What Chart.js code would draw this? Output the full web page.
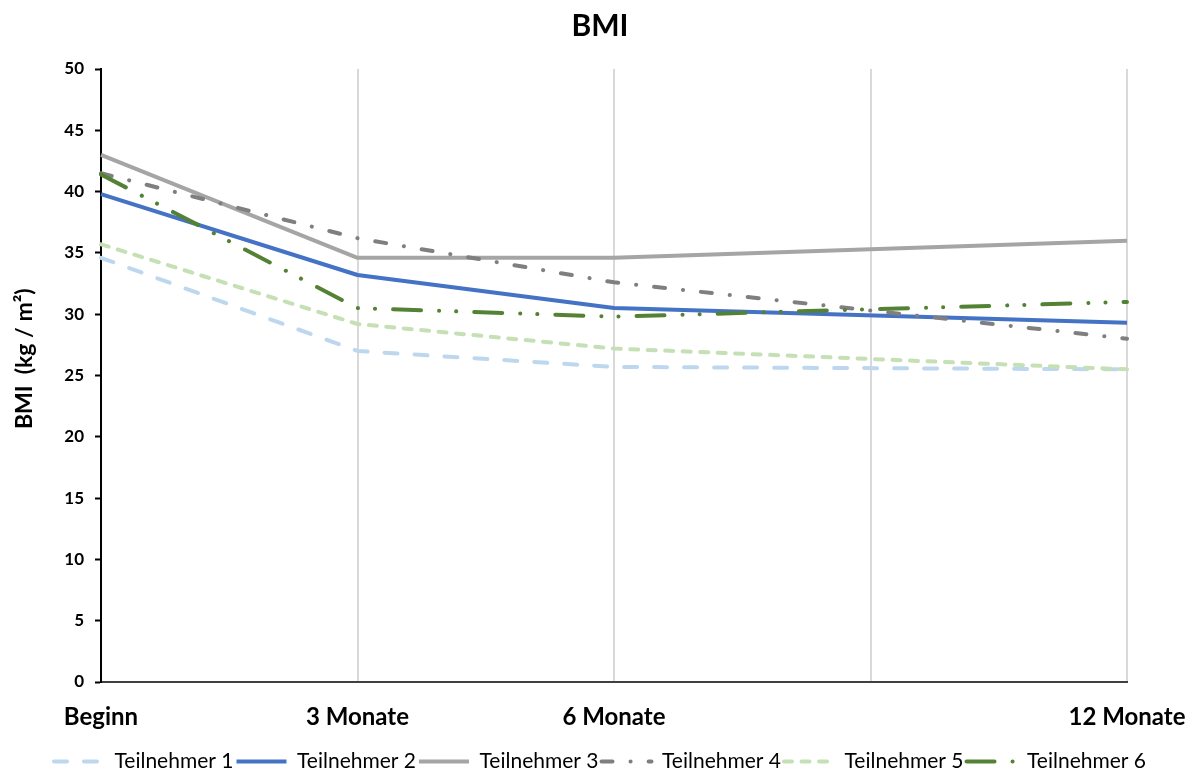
<!DOCTYPE html>
<html>
<head>
<meta charset="utf-8">
<title>BMI</title>
<script src="https://cdn.jsdelivr.net/npm/chart.js@4"></script>
<style>
  html, body { margin: 0; padding: 0; background: #fff; }
</style>
</head>
<body>
<canvas id="bmiChart" width="1195" height="774"></canvas>
<script>
// BMI der Teilnehmer im Verlauf (9 Monate: kein Messwert, Linie wird durchgezogen)
var zeitpunkte = ["Beginn", "3 Monate", "6 Monate", "", "12 Monate"];
var teilnehmerNamen = ["Teilnehmer 1", "Teilnehmer 2", "Teilnehmer 3", "Teilnehmer 4", "Teilnehmer 5", "Teilnehmer 6"];

var teilnehmer1 = [34.6, 27.0, 25.7, null, 25.5];
var teilnehmer2 = [39.8, 33.2, 30.5, null, 29.3];
var teilnehmer3 = [43.0, 34.6, 34.6, null, 36.0];
var teilnehmer4 = [41.5, 36.2, 32.6, null, 28.0];
var teilnehmer5 = [35.7, 29.2, 27.2, null, 25.5];
var teilnehmer6 = [41.4, 30.5, 29.8, null, 31.0];

var yTicks = [0, 5, 10, 15, 20, 25, 30, 35, 40, 45, 50];

// Linienstile wie in Excel
var farben = ["#BDD7EE", "#4472C4", "#A5A5A5", "#7F7F7F", "#C5E0B4", "#548235"];
var striche = [
    [13, 17],
    [],
    [],
    [11, 18, 0.1, 18],
    [8, 9.5],
    [28, 18, 0.1, 17, 0.1, 18]
];
var werte = [teilnehmer1, teilnehmer2, teilnehmer3, teilnehmer4, teilnehmer5, teilnehmer6];

var datasets = werte.map(function (w, i) {
    return {
        label: teilnehmerNamen[i],
        data: w,
        borderColor: farben[i],
        backgroundColor: farben[i],
        borderWidth: 4,
        borderDash: striche[i],
        borderCapStyle: striche[i].length ? 'round' : 'butt',
        borderJoinStyle: 'round',
        pointRadius: 0,
        pointHoverRadius: 0,
        pointStyle: 'line',
        tension: 0,
        spanGaps: true,
        fill: false,
        order: 10 - i   // spätere Serien liegen oben
    };
});

var ctx = document.getElementById("bmiChart").getContext('2d');
var bmiChart = new Chart(ctx, {
    type: 'line',
    data: {
        labels: zeitpunkte,
        datasets: datasets
    },
    options: {
        responsive: false,
        animation: false,
        layout: {
            padding: { left: 5, right: 0, top: 0, bottom: -8 }
        },
        plugins: {
            title: {
                display: true,
                text: 'BMI',
                color: '#000',
                font: { family: 'Lato', size: 30, weight: 'bold', lineHeight: 1.2 },
                padding: { top: 8, bottom: 25 }
            },
            legend: {
                position: 'bottom',
                labels: {
                    usePointStyle: true,
                    pointStyleWidth: 50,
                    padding: 3,
                    color: '#000',
                    font: { family: 'Lato', size: 21 },
                    sort: function (a, b) { return a.datasetIndex - b.datasetIndex; },
                    generateLabels: function (chart) {
                        var items = Chart.defaults.plugins.legend.labels.generateLabels(chart);
                        items.forEach(function (item) {
                            var ds = chart.data.datasets[item.datasetIndex];
                            item.lineDash = ds.borderDash;
                            item.lineCap = ds.borderCapStyle;
                            item.lineWidth = ds.borderWidth;
                            item.strokeStyle = ds.borderColor;
                            item.pointStyle = 'line';
                        });
                        return items;
                    }
                }
            },
            tooltip: { enabled: false }
        },
        scales: {
            x: {
                offset: false,
                afterFit: function (scale) {
                    scale.height = 66;
                    scale.paddingLeft = 0;
                    scale.paddingRight = 0;
                },
                grid: {
                    color: '#D9D9D9',
                    lineWidth: 2,
                    drawTicks: false
                },
                border: { color: '#404040', width: 2 },
                ticks: {
                    color: '#000',
                    padding: 21,
                    maxRotation: 0,
                    autoSkip: false,
                    font: { family: 'Lato', size: 24, weight: 'bold' }
                }
            },
            y: {
                min: 0,
                max: 50,
                afterFit: function (scale) { scale.width = 96; },
                afterBuildTicks: function (scale) {
                    scale.ticks = yTicks.map(function (v) { return { value: v }; });
                },
                grid: {
                    drawOnChartArea: false,
                    drawTicks: true,
                    tickLength: 6,
                    tickColor: '#000',
                    tickWidth: 2
                },
                border: { color: '#000', width: 2 },
                ticks: {
                    color: '#000',
                    padding: 11,
                    font: { family: 'Lato', size: 17, weight: 'bold' }
                },
                title: {
                    display: true,
                    text: '      BMI  (kg / m²)',
                    color: '#000',
                    padding: { top: 6, bottom: 0 },
                    font: { family: 'Lato', size: 23, weight: 'bold', lineHeight: 1.2 }
                }
            },
            // leerer Rand rechts, damit "12 Monate" Platz hat
            rechts: {
                type: 'linear',
                position: 'right',
                display: true,
                afterFit: function (scale) { scale.width = 68; },
                grid: { display: false },
                border: { display: false },
                ticks: { display: false }
            }
        }
    }
});
</script>
</body>
</html>
